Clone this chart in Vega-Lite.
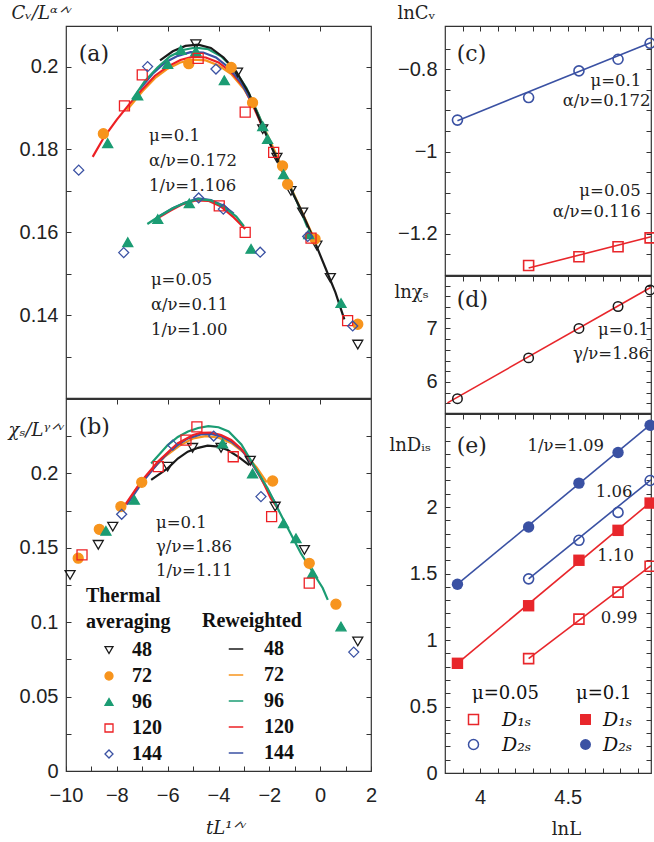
{
"$schema": "https://vega.github.io/schema/vega-lite/v6.json",
"padding": {"left": 7, "top": 3, "right": 0, "bottom": 0},
"background": "white",
"config": {
 "view": {"stroke": "#333333", "strokeWidth": 1.2},
 "axis": {"domain": false, "grid": false, "ticks": true, "tickSize": -5, "tickColor": "#333333", "tickWidth": 1, "labelFont": "Liberation Sans", "labelFontSize": 20, "labelColor": "#222222", "labelFlush": false, "labelOverlap": false, "labelPadding": 13, "titleFont": "DejaVu Serif", "titleFontSize": 18, "titleFontWeight": "normal", "titleColor": "#222222"},
 "axisBottom": {"labelPadding": 19},
 "legend": {"padding": 0, "labelColor": "#111111", "titleColor": "#111111", "labelLimit": 300, "titleLimit": 300}
},
"datasets": {
 "a_th": [
  {"L":48,"x":-4.89,"y":0.2054},{"L":48,"x":-3.25,"y":0.1986},{"L":48,"x":-2.26,"y":0.1849},{"L":48,"x":-1.7,"y":0.178},{"L":48,"x":-1.15,"y":0.170},{"L":48,"x":-0.69,"y":0.1648},{"L":48,"x":-0.13,"y":0.1568},{"L":48,"x":0.4,"y":0.149},{"L":48,"x":1.48,"y":0.1329},
  {"L":72,"x":-8.53,"y":0.1838},{"L":72,"x":-5.17,"y":0.2007},{"L":72,"x":-3.5,"y":0.1998},{"L":72,"x":-2.66,"y":0.1913},{"L":72,"x":-1.48,"y":0.176},{"L":72,"x":-1.28,"y":0.1716},{"L":72,"x":-0.2,"y":0.1584},{"L":72,"x":1.48,"y":0.1378},
  {"L":96,"x":-8.36,"y":0.1815},{"L":96,"x":-7.18,"y":0.193},{"L":96,"x":-6.0,"y":0.2006},{"L":96,"x":-5.48,"y":0.204},{"L":96,"x":-4.89,"y":0.2037},{"L":96,"x":-3.77,"y":0.1967},{"L":96,"x":-2.26,"y":0.1856},{"L":96,"x":-2.07,"y":0.1825},{"L":96,"x":-1.44,"y":0.174},{"L":96,"x":-0.45,"y":0.1595},{"L":96,"x":0.82,"y":0.1429},
  {"L":96,"x":-7.57,"y":0.1576},{"L":96,"x":-6.39,"y":0.1632},{"L":96,"x":-5.15,"y":0.167},{"L":96,"x":-2.72,"y":0.156},
  {"L":120,"x":-7.7,"y":0.1905},{"L":120,"x":-7.0,"y":0.198},{"L":120,"x":-4.8,"y":0.202},{"L":120,"x":-2.95,"y":0.189},{"L":120,"x":-1.83,"y":0.1793},{"L":120,"x":-0.36,"y":0.1586},{"L":120,"x":1.08,"y":0.1387},
  {"L":120,"x":-3.97,"y":0.1664},{"L":120,"x":-2.95,"y":0.160},
  {"L":144,"x":-9.5,"y":0.175},{"L":144,"x":-6.79,"y":0.200},{"L":144,"x":-4.1,"y":0.1994},{"L":144,"x":-0.49,"y":0.159},{"L":144,"x":1.28,"y":0.1374},
  {"L":144,"x":-7.73,"y":0.1551},{"L":144,"x":-4.78,"y":0.1683},{"L":144,"x":-3.81,"y":0.1656},{"L":144,"x":-2.36,"y":0.1552}
 ],
 "a_rw": [
  {"Lr":"72","mu":"0.1","x":-7.6,"y":0.1895},{"Lr":"72","mu":"0.1","x":-7.0,"y":0.1940},{"Lr":"72","mu":"0.1","x":-6.5,"y":0.1972},{"Lr":"72","mu":"0.1","x":-6.0,"y":0.1995},{"Lr":"72","mu":"0.1","x":-5.5,"y":0.2010},{"Lr":"72","mu":"0.1","x":-5.0,"y":0.2017},{"Lr":"72","mu":"0.1","x":-4.5,"y":0.2015},{"Lr":"72","mu":"0.1","x":-4.0,"y":0.2003},{"Lr":"72","mu":"0.1","x":-3.5,"y":0.1982},{"Lr":"72","mu":"0.1","x":-3.0,"y":0.1946},{"Lr":"72","mu":"0.1","x":-2.5,"y":0.1893},{"Lr":"72","mu":"0.1","x":-2.0,"y":0.1825},{"Lr":"72","mu":"0.1","x":-1.5,"y":0.1758},{"Lr":"72","mu":"0.1","x":-1.0,"y":0.1688},{"Lr":"72","mu":"0.1","x":-0.5,"y":0.1620},{"Lr":"72","mu":"0.1","x":-0.2,"y":0.1580},
  {"Lr":"120","mu":"0.1","x":-8.95,"y":0.1782},{"Lr":"120","mu":"0.1","x":-8.5,"y":0.1830},{"Lr":"120","mu":"0.1","x":-8.0,"y":0.1872},{"Lr":"120","mu":"0.1","x":-7.5,"y":0.1910},{"Lr":"120","mu":"0.1","x":-7.0,"y":0.1945},{"Lr":"120","mu":"0.1","x":-6.5,"y":0.1978},{"Lr":"120","mu":"0.1","x":-6.0,"y":0.2000},{"Lr":"120","mu":"0.1","x":-5.5,"y":0.2016},{"Lr":"120","mu":"0.1","x":-5.0,"y":0.2024},{"Lr":"120","mu":"0.1","x":-4.5,"y":0.2022},{"Lr":"120","mu":"0.1","x":-4.0,"y":0.2010},{"Lr":"120","mu":"0.1","x":-3.5,"y":0.1987},{"Lr":"120","mu":"0.1","x":-3.0,"y":0.1950},{"Lr":"120","mu":"0.1","x":-2.6,"y":0.1900},{"Lr":"120","mu":"0.1","x":-2.3,"y":0.1858},
  {"Lr":"144","mu":"0.1","x":-7.1,"y":0.1945},{"Lr":"144","mu":"0.1","x":-6.6,"y":0.1982},{"Lr":"144","mu":"0.1","x":-6.1,"y":0.2010},{"Lr":"144","mu":"0.1","x":-5.6,"y":0.2026},{"Lr":"144","mu":"0.1","x":-5.1,"y":0.2035},{"Lr":"144","mu":"0.1","x":-4.6,"y":0.2034},{"Lr":"144","mu":"0.1","x":-4.1,"y":0.2022},{"Lr":"144","mu":"0.1","x":-3.6,"y":0.1998},{"Lr":"144","mu":"0.1","x":-3.1,"y":0.1960},{"Lr":"144","mu":"0.1","x":-2.6,"y":0.1905},{"Lr":"144","mu":"0.1","x":-2.2,"y":0.1850},
  {"Lr":"96","mu":"0.1","x":-7.4,"y":0.1920},{"Lr":"96","mu":"0.1","x":-6.9,"y":0.1965},{"Lr":"96","mu":"0.1","x":-6.4,"y":0.1998},{"Lr":"96","mu":"0.1","x":-5.9,"y":0.2025},{"Lr":"96","mu":"0.1","x":-5.4,"y":0.2040},{"Lr":"96","mu":"0.1","x":-4.9,"y":0.2046},{"Lr":"96","mu":"0.1","x":-4.4,"y":0.2042},{"Lr":"96","mu":"0.1","x":-3.9,"y":0.2025},{"Lr":"96","mu":"0.1","x":-3.4,"y":0.1995},{"Lr":"96","mu":"0.1","x":-2.9,"y":0.1948},{"Lr":"96","mu":"0.1","x":-2.4,"y":0.1880},{"Lr":"96","mu":"0.1","x":-1.9,"y":0.1805},{"Lr":"96","mu":"0.1","x":-1.4,"y":0.1738},{"Lr":"96","mu":"0.1","x":-0.9,"y":0.1672},{"Lr":"96","mu":"0.1","x":-0.5,"y":0.1612},
  {"Lr":"48","mu":"0.1","x":-6.3,"y":0.2015},{"Lr":"48","mu":"0.1","x":-5.8,"y":0.2037},{"Lr":"48","mu":"0.1","x":-5.3,"y":0.2050},{"Lr":"48","mu":"0.1","x":-4.8,"y":0.2053},{"Lr":"48","mu":"0.1","x":-4.3,"y":0.2045},{"Lr":"48","mu":"0.1","x":-3.8,"y":0.2022},{"Lr":"48","mu":"0.1","x":-3.3,"y":0.1988},{"Lr":"48","mu":"0.1","x":-2.8,"y":0.1935},{"Lr":"48","mu":"0.1","x":-2.3,"y":0.1860},{"Lr":"48","mu":"0.1","x":-1.8,"y":0.1790},{"Lr":"48","mu":"0.1","x":-1.3,"y":0.1722},{"Lr":"48","mu":"0.1","x":-0.8,"y":0.1660},{"Lr":"48","mu":"0.1","x":-0.3,"y":0.1590},{"Lr":"48","mu":"0.1","x":0.2,"y":0.1515},{"Lr":"48","mu":"0.1","x":0.6,"y":0.1455},{"Lr":"48","mu":"0.1","x":0.95,"y":0.1390},
  {"Lr":"120","mu":"0.05","x":-6.4,"y":0.1634},{"Lr":"120","mu":"0.05","x":-5.9,"y":0.1652},{"Lr":"120","mu":"0.05","x":-5.4,"y":0.1668},{"Lr":"120","mu":"0.05","x":-4.9,"y":0.1677},{"Lr":"120","mu":"0.05","x":-4.4,"y":0.1676},{"Lr":"120","mu":"0.05","x":-3.9,"y":0.1662},{"Lr":"120","mu":"0.05","x":-3.4,"y":0.1636},{"Lr":"120","mu":"0.05","x":-2.95,"y":0.1608},
  {"Lr":"144","mu":"0.05","x":-6.3,"y":0.1640},{"Lr":"144","mu":"0.05","x":-5.8,"y":0.1658},{"Lr":"144","mu":"0.05","x":-5.3,"y":0.1672},{"Lr":"144","mu":"0.05","x":-4.8,"y":0.1682},{"Lr":"144","mu":"0.05","x":-4.3,"y":0.1678},{"Lr":"144","mu":"0.05","x":-3.8,"y":0.1664},{"Lr":"144","mu":"0.05","x":-3.4,"y":0.1645},
  {"Lr":"96","mu":"0.05","x":-6.8,"y":0.1620},{"Lr":"96","mu":"0.05","x":-6.3,"y":0.1640},{"Lr":"96","mu":"0.05","x":-5.8,"y":0.1658},{"Lr":"96","mu":"0.05","x":-5.3,"y":0.1672},{"Lr":"96","mu":"0.05","x":-4.8,"y":0.1680},{"Lr":"96","mu":"0.05","x":-4.3,"y":0.1677},{"Lr":"96","mu":"0.05","x":-3.8,"y":0.1662},{"Lr":"96","mu":"0.05","x":-3.3,"y":0.1638},{"Lr":"96","mu":"0.05","x":-3.0,"y":0.1615}
 ],
 "b_th": [
  {"L":48,"x":-9.84,"y":0.1318},{"L":48,"x":-8.73,"y":0.152},{"L":48,"x":-8.16,"y":0.1642},{"L":48,"x":-6.0,"y":0.2045},{"L":48,"x":-5.02,"y":0.2172},{"L":48,"x":-3.9,"y":0.2172},{"L":48,"x":-2.75,"y":0.2085},{"L":48,"x":-1.77,"y":0.1777},{"L":48,"x":-0.62,"y":0.1486},{"L":48,"x":1.48,"y":0.0871},
  {"L":72,"x":-9.52,"y":0.143},{"L":72,"x":-8.69,"y":0.1624},{"L":72,"x":-7.84,"y":0.1777},{"L":72,"x":-7.02,"y":0.194},{"L":72,"x":-1.87,"y":0.1949},{"L":72,"x":-0.43,"y":0.1396},{"L":72,"x":0.62,"y":0.1121},
  {"L":96,"x":-8.43,"y":0.1614},{"L":96,"x":-7.31,"y":0.1822},{"L":96,"x":-3.84,"y":0.2201},{"L":96,"x":-2.66,"y":0.2},{"L":96,"x":-1.44,"y":0.1665},{"L":96,"x":-0.95,"y":0.1564},{"L":96,"x":-0.3,"y":0.1329},{"L":96,"x":0.82,"y":0.0971},
  {"L":120,"x":-9.37,"y":0.1452},{"L":120,"x":-6.37,"y":0.2045},{"L":120,"x":-5.28,"y":0.2224},{"L":120,"x":-4.85,"y":0.2313},{"L":120,"x":-3.42,"y":0.2112},{"L":120,"x":-1.91,"y":0.171},{"L":120,"x":-0.43,"y":0.1262},
  {"L":144,"x":-7.81,"y":0.1725},{"L":144,"x":-5.8,"y":0.219},{"L":144,"x":-4.19,"y":0.2251},{"L":144,"x":-2.33,"y":0.1844},{"L":144,"x":1.32,"y":0.0799}
 ],
 "b_rw": [
  {"Lr":"48","x":-6.65,"y":0.1956},{"Lr":"48","x":-6.0,"y":0.2034},{"Lr":"48","x":-5.6,"y":0.2100},{"Lr":"48","x":-5.21,"y":0.2146},{"Lr":"48","x":-4.8,"y":0.2172},{"Lr":"48","x":-4.43,"y":0.2186},{"Lr":"48","x":-4.0,"y":0.2180},{"Lr":"48","x":-3.64,"y":0.2157},{"Lr":"48","x":-3.2,"y":0.2110},{"Lr":"48","x":-2.79,"y":0.2056},
  {"Lr":"72","x":-7.3,"y":0.1880},{"Lr":"72","x":-6.7,"y":0.2010},{"Lr":"72","x":-6.1,"y":0.2115},{"Lr":"72","x":-5.5,"y":0.2190},{"Lr":"72","x":-5.0,"y":0.2235},{"Lr":"72","x":-4.5,"y":0.2250},{"Lr":"72","x":-4.0,"y":0.2240},{"Lr":"72","x":-3.5,"y":0.2205},{"Lr":"72","x":-3.0,"y":0.2140},{"Lr":"72","x":-2.5,"y":0.2040},{"Lr":"72","x":-2.1,"y":0.1940},
  {"Lr":"144","x":-7.6,"y":0.1790},{"Lr":"144","x":-7.0,"y":0.1940},{"Lr":"144","x":-6.4,"y":0.2065},{"Lr":"144","x":-5.8,"y":0.2170},{"Lr":"144","x":-5.2,"y":0.2235},{"Lr":"144","x":-4.7,"y":0.2262},{"Lr":"144","x":-4.3,"y":0.2265},{"Lr":"144","x":-3.9,"y":0.2250},{"Lr":"144","x":-3.5,"y":0.2215},{"Lr":"144","x":-3.1,"y":0.2160},{"Lr":"144","x":-2.7,"y":0.2070},{"Lr":"144","x":-2.3,"y":0.1960},{"Lr":"144","x":-1.9,"y":0.1840},{"Lr":"144","x":-1.65,"y":0.1770},
  {"Lr":"120","x":-7.77,"y":0.1765},{"Lr":"120","x":-7.05,"y":0.1944},{"Lr":"120","x":-6.39,"y":0.2078},{"Lr":"120","x":-5.61,"y":0.2201},{"Lr":"120","x":-5.0,"y":0.2258},{"Lr":"120","x":-4.69,"y":0.2273},{"Lr":"120","x":-4.3,"y":0.2275},{"Lr":"120","x":-3.9,"y":0.2258},{"Lr":"120","x":-3.5,"y":0.2225},{"Lr":"120","x":-3.12,"y":0.2168},{"Lr":"120","x":-2.8,"y":0.2100},{"Lr":"120","x":-2.46,"y":0.2011},{"Lr":"120","x":-2.2,"y":0.1925},{"Lr":"120","x":-1.94,"y":0.1832},{"Lr":"120","x":-1.67,"y":0.1765},
  {"Lr":"96","x":-6.65,"y":0.2067},{"Lr":"96","x":-6.0,"y":0.2190},{"Lr":"96","x":-5.6,"y":0.2245},{"Lr":"96","x":-5.2,"y":0.2282},{"Lr":"96","x":-4.8,"y":0.2305},{"Lr":"96","x":-4.4,"y":0.2318},{"Lr":"96","x":-4.0,"y":0.2310},{"Lr":"96","x":-3.6,"y":0.2282},{"Lr":"96","x":-3.1,"y":0.2195},{"Lr":"96","x":-2.7,"y":0.2080},{"Lr":"96","x":-2.07,"y":0.1900},{"Lr":"96","x":-1.41,"y":0.1676},{"Lr":"96","x":-0.76,"y":0.1463},{"Lr":"96","x":0.1,"y":0.1230},{"Lr":"96","x":0.3,"y":0.1150}
 ]
},
"resolve": {"scale": {"color": "independent", "fill": "independent", "stroke": "independent", "shape": "independent"}},
"spacing": 10,
"hconcat": [
 {
  "spacing": -2,
  "resolve": {"scale": {"color": "independent", "fill": "independent", "stroke": "independent", "shape": "independent"}},
  "vconcat": [
   {
    "width": 305, "height": 372,
    "resolve": {"axis": {"x": "independent", "y": "independent"}},
    "layer": [
     {
      "data": {"name": "a_rw"},
      "mark": {"type": "line", "strokeWidth": 2.2},
      "encoding": {
       "x": {"field": "x", "type": "quantitative", "scale": {"domain": [-10, 2], "nice": false, "zero": false}, "axis": {"orient": "top", "values": [-8, -6, -4, -2, 0], "labels": false, "title": null}},
       "y": {"field": "y", "type": "quantitative", "scale": {"domain": [0.12, 0.2098], "nice": false, "zero": false}, "axis": {"orient": "right", "values": [0.13, 0.14, 0.15, 0.16, 0.17, 0.18, 0.19, 0.2], "labels": false, "title": null}},
       "color": {"field": "Lr", "type": "nominal", "scale": {"domain": ["48", "72", "96", "120", "144"], "range": ["#1a1a1a", "#f7941d", "#1b9c73", "#ed2024", "#3a51a3"]}, "legend": null},
       "detail": {"field": "mu"}
      }
     },
     {
      "data": {"name": "a_th"},
      "mark": {"type": "point", "filled": true, "opacity": 1, "size": 100, "strokeWidth": 1.3},
      "encoding": {
       "x": {"field": "x", "type": "quantitative", "axis": null},
       "y": {"field": "y", "type": "quantitative", "axis": {"orient": "left", "values": [0.13, 0.14, 0.15, 0.16, 0.17, 0.18, 0.19, 0.2], "format": "~r", "labelExpr": "abs(datum.value*50-round(datum.value*50))<0.001 ? datum.label : ''", "title": "Cᵥ/Lᵅᐟᵛ", "titleFontStyle": "italic", "titleAngle": 0, "titleAlign": "left", "titleBaseline": "alphabetic", "titleX": -55, "titleY": -8}},
       "shape": {"field": "L", "type": "nominal", "scale": {"domain": [48, 72, 96, 120, 144], "range": ["triangle-down", "circle", "triangle-up", "square", "diamond"]}, "legend": null},
       "fill": {"field": "L", "type": "nominal", "scale": {"domain": [48, 72, 96, 120, 144], "range": ["transparent", "#f7941d", "#1b9c73", "transparent", "transparent"]}, "legend": null},
       "stroke": {"field": "L", "type": "nominal", "scale": {"domain": [48, 72, 96, 120, 144], "range": ["#1a1a1a", "#f7941d", "#1b9c73", "#ed2024", "#3a51a3"]}, "legend": null}
      }
     },
     {
      "data": {"values": [{"x": -9.5, "y": 0.2031, "t": "(a)"}]},
      "mark": {"type": "text", "font": "DejaVu Serif", "fontSize": 22, "align": "left", "baseline": "middle", "color": "#222222"},
      "encoding": {"x": {"field": "x", "type": "quantitative", "axis": null}, "y": {"field": "y", "type": "quantitative", "axis": null}, "text": {"field": "t"}}
     },
     {
      "data": {"values": [{"x": -6.73, "y": 0.1833, "t": "μ=0.1\nα/ν=0.172\n1/ν=1.106"}, {"x": -6.66, "y": 0.1484, "t": "μ=0.05\nα/ν=0.11\n1/ν=1.00"}]},
      "mark": {"type": "text", "font": "DejaVu Serif", "fontSize": 16.5, "align": "left", "baseline": "middle", "lineBreak": "\n", "lineHeight": 25, "color": "#222222"},
      "encoding": {"x": {"field": "x", "type": "quantitative", "axis": null}, "y": {"field": "y", "type": "quantitative", "axis": null}, "text": {"field": "t"}}
     }
    ]
   },
   {
    "width": 305, "height": 372,
    "resolve": {"axis": {"x": "independent", "y": "independent"}, "legend": {"color": "independent", "shape": "independent", "fill": "independent", "stroke": "independent"}},
    "layer": [
     {
      "data": {"name": "b_rw"},
      "mark": {"type": "line", "strokeWidth": 2.2},
      "encoding": {
       "x": {"field": "x", "type": "quantitative", "scale": {"domain": [-10, 2], "nice": false, "zero": false}, "axis": {"orient": "top", "values": [-8, -6, -4, -2, 0], "labels": false, "title": null}},
       "y": {"field": "y", "type": "quantitative", "scale": {"domain": [0, 0.25], "nice": false, "zero": false}, "axis": {"orient": "right", "values": [0.025, 0.05, 0.075, 0.1, 0.125, 0.15, 0.175, 0.2, 0.225], "labels": false, "title": null}},
       "color": {"field": "Lr", "type": "nominal", "scale": {"domain": ["48", "72", "96", "120", "144"], "range": ["#1a1a1a", "#f7941d", "#1b9c73", "#ed2024", "#3a51a3"]},
        "legend": {"title": "Reweighted", "orient": "none", "legendX": 136, "legendY": 212, "symbolType": "stroke", "symbolSize": 210, "symbolStrokeWidth": 1.5, "symbolOffset": 24, "labelOffset": 18, "rowPadding": 6, "titlePadding": 8, "labelFont": "Liberation Serif", "labelFontWeight": "bold", "labelFontSize": 20, "titleFont": "Liberation Serif", "titleFontWeight": "bold", "titleFontSize": 20}}
      }
     },
     {
      "data": {"name": "b_th"},
      "mark": {"type": "point", "filled": true, "opacity": 1, "size": 100, "strokeWidth": 1.3},
      "encoding": {
       "x": {"field": "x", "type": "quantitative", "axis": {"orient": "bottom", "values": [-10, -9, -8, -7, -6, -5, -4, -3, -2, -1, 0, 1, 2], "format": "~r", "labelExpr": "datum.value % 2 == 0 ? datum.label : ''", "title": "tL¹ᐟᵛ", "titleFontStyle": "italic", "titleAlign": "center", "titleBaseline": "middle", "titleX": 160, "titleY": 57}},
       "y": {"field": "y", "type": "quantitative", "axis": {"orient": "left", "values": [0, 0.025, 0.05, 0.075, 0.1, 0.125, 0.15, 0.175, 0.2, 0.225], "format": "~r", "labelExpr": "abs(datum.value*20-round(datum.value*20))<0.001 ? datum.label : ''", "title": "χₛ/Lᵞᐟᵛ", "titleFontStyle": "italic", "titleAngle": 0, "titleAlign": "left", "titleBaseline": "alphabetic", "titleX": -58, "titleY": 36}},
       "shape": {"field": "L", "type": "nominal", "scale": {"domain": [48, 72, 96, 120, 144], "range": ["triangle-down", "circle", "triangle-up", "square", "diamond"]},
        "legend": {"title": ["Thermal", "averaging"], "orient": "none", "legendX": 20, "legendY": 187, "symbolOffset": 13, "labelOffset": 13, "titleLineHeight": 26, "titlePadding": 8, "rowPadding": 6, "symbolSize": 64, "symbolStrokeWidth": 1.3, "labelFont": "Liberation Serif", "labelFontWeight": "bold", "labelFontSize": 20, "titleFont": "Liberation Serif", "titleFontWeight": "bold", "titleFontSize": 20}},
       "fill": {"field": "L", "type": "nominal", "scale": {"domain": [48, 72, 96, 120, 144], "range": ["transparent", "#f7941d", "#1b9c73", "transparent", "transparent"]},
        "legend": {"title": ["Thermal", "averaging"], "orient": "none", "legendX": 20, "legendY": 187, "symbolOffset": 13, "labelOffset": 13, "titleLineHeight": 26, "titlePadding": 8, "rowPadding": 6, "symbolSize": 64, "symbolStrokeWidth": 1.3, "labelFont": "Liberation Serif", "labelFontWeight": "bold", "labelFontSize": 20, "titleFont": "Liberation Serif", "titleFontWeight": "bold", "titleFontSize": 20}},
       "stroke": {"field": "L", "type": "nominal", "scale": {"domain": [48, 72, 96, 120, 144], "range": ["#1a1a1a", "#f7941d", "#1b9c73", "#ed2024", "#3a51a3"]},
        "legend": {"title": ["Thermal", "averaging"], "orient": "none", "legendX": 20, "legendY": 187, "symbolOffset": 13, "labelOffset": 13, "titleLineHeight": 26, "titlePadding": 8, "rowPadding": 6, "symbolSize": 64, "symbolStrokeWidth": 1.3, "labelFont": "Liberation Serif", "labelFontWeight": "bold", "labelFontSize": 20, "titleFont": "Liberation Serif", "titleFontWeight": "bold", "titleFontSize": 20}}
      }
     },
     {
      "data": {"values": [{"x": -9.5, "y": 0.2313, "t": "(b)"}]},
      "mark": {"type": "text", "font": "DejaVu Serif", "fontSize": 22, "align": "left", "baseline": "middle", "color": "#222222"},
      "encoding": {"x": {"field": "x", "type": "quantitative", "axis": null}, "y": {"field": "y", "type": "quantitative", "axis": null}, "text": {"field": "t"}}
     },
     {
      "data": {"values": [{"x": -6.46, "y": 0.1669, "t": "μ=0.1\nγ/ν=1.86\n1/ν=1.11"}]},
      "mark": {"type": "text", "font": "DejaVu Serif", "fontSize": 16.5, "align": "left", "baseline": "middle", "lineBreak": "\n", "lineHeight": 24, "color": "#222222"},
      "encoding": {"x": {"field": "x", "type": "quantitative", "axis": null}, "y": {"field": "y", "type": "quantitative", "axis": null}, "text": {"field": "t"}}
     }
    ]
   }
  ]
 },
 {
  "spacing": -2,
  "resolve": {"scale": {"color": "independent", "fill": "independent", "stroke": "independent", "shape": "independent"}},
  "vconcat": [
   {
    "width": 206, "height": 249,
    "resolve": {"axis": {"x": "independent", "y": "independent"}},
    "layer": [
     {
      "data": {"values": [{"lnL": 3.871, "v": -0.925}, {"lnL": 4.975, "v": -0.735}]},
      "mark": {"type": "line", "color": "#3a51a3", "strokeWidth": 1.6},
      "encoding": {
       "x": {"field": "lnL", "type": "quantitative", "scale": {"domain": [3.8, 4.975], "nice": false, "zero": false}, "axis": {"orient": "top", "values": [3.9, 4.0, 4.1, 4.2, 4.3, 4.4, 4.5, 4.6, 4.7, 4.8, 4.9], "labels": false, "title": null}},
       "y": {"field": "v", "type": "quantitative", "scale": {"domain": [-1.3, -0.695], "nice": false, "zero": false}, "axis": {"orient": "right", "values": [-1.25, -1.2, -1.15, -1.1, -1.05, -1.0, -0.95, -0.9, -0.85, -0.8, -0.75], "labels": false, "title": null}}
      }
     },
     {
      "data": {"values": [{"lnL": 4.277, "v": -1.283}, {"lnL": 4.975, "v": -1.207}]},
      "mark": {"type": "line", "color": "#e8262b", "strokeWidth": 1.6},
      "encoding": {"x": {"field": "lnL", "type": "quantitative", "axis": null}, "y": {"field": "v", "type": "quantitative", "axis": null}}
     },
     {
      "data": {"values": [{"lnL": 3.871, "v": -0.9236}, {"lnL": 4.277, "v": -0.8689}, {"lnL": 4.564, "v": -0.8041}, {"lnL": 4.787, "v": -0.7758}, {"lnL": 4.970, "v": -0.737}]},
      "mark": {"type": "point", "shape": "circle", "filled": false, "color": "#3a51a3", "opacity": 1, "size": 100, "strokeWidth": 1.6},
      "encoding": {
       "x": {"field": "lnL", "type": "quantitative", "axis": null},
       "y": {"field": "v", "type": "quantitative", "axis": {"orient": "left", "values": [-1.25, -1.2, -1.15, -1.1, -1.05, -1.0, -0.95, -0.9, -0.85, -0.8, -0.75], "format": "~r", "labelExpr": "abs(datum.value*5-round(datum.value*5))<0.001 ? datum.label : ''", "title": "lnCᵥ", "titleAngle": 0, "titleAlign": "left", "titleBaseline": "alphabetic", "titleX": -48, "titleY": -8}}
      }
     },
     {
      "data": {"values": [{"lnL": 4.277, "v": -1.2768}, {"lnL": 4.564, "v": -1.2558}, {"lnL": 4.787, "v": -1.2315}, {"lnL": 4.970, "v": -1.2097}]},
      "mark": {"type": "point", "shape": "square", "filled": false, "color": "#e8262b", "opacity": 1, "size": 100, "strokeWidth": 1.6},
      "encoding": {"x": {"field": "lnL", "type": "quantitative", "axis": null}, "y": {"field": "v", "type": "quantitative", "axis": null}}
     },
     {
      "data": {"values": [{"x": 3.867, "y": -0.763, "t": "(c)"}]},
      "mark": {"type": "text", "font": "DejaVu Serif", "fontSize": 22, "align": "left", "baseline": "middle", "color": "#222222"},
      "encoding": {"x": {"field": "x", "type": "quantitative", "axis": null}, "y": {"field": "y", "type": "quantitative", "axis": null}, "text": {"field": "t"}}
     },
     {
      "data": {"values": [{"x": 4.92, "y": -0.828, "t": "μ=0.1"}, {"x": 4.972, "y": -0.877, "t": "α/ν=0.172"}, {"x": 4.916, "y": -1.095, "t": "μ=0.05"}, {"x": 4.916, "y": -1.148, "t": "α/ν=0.116"}]},
      "mark": {"type": "text", "font": "DejaVu Serif", "fontSize": 16.5, "align": "right", "baseline": "middle", "color": "#222222"},
      "encoding": {"x": {"field": "x", "type": "quantitative", "axis": null}, "y": {"field": "y", "type": "quantitative", "axis": null}, "text": {"field": "t"}}
     }
    ]
   },
   {
    "width": 206, "height": 137,
    "resolve": {"axis": {"x": "independent", "y": "independent"}},
    "layer": [
     {
      "data": {"values": [{"lnL": 3.814, "v": 5.61}, {"lnL": 4.975, "v": 7.77}]},
      "mark": {"type": "line", "color": "#e8262b", "strokeWidth": 1.6},
      "encoding": {
       "x": {"field": "lnL", "type": "quantitative", "scale": {"domain": [3.8, 4.975], "nice": false, "zero": false}, "axis": {"orient": "top", "values": [3.9, 4.0, 4.1, 4.2, 4.3, 4.4, 4.5, 4.6, 4.7, 4.8, 4.9], "labels": false, "title": null}},
       "y": {"field": "v", "type": "quantitative", "scale": {"domain": [5.42, 7.98], "nice": false, "zero": false}, "axis": {"orient": "right", "values": [5.6, 5.8, 6.0, 6.2, 6.4, 6.6, 6.8, 7.0, 7.2, 7.4, 7.6, 7.8], "labels": false, "title": null}}
      }
     },
     {
      "data": {"values": [{"lnL": 3.871, "v": 5.687}, {"lnL": 4.277, "v": 6.45}, {"lnL": 4.564, "v": 7.0}, {"lnL": 4.787, "v": 7.41}, {"lnL": 4.970, "v": 7.72}]},
      "mark": {"type": "point", "shape": "circle", "filled": false, "color": "#1a1a1a", "opacity": 1, "size": 90, "strokeWidth": 1.5},
      "encoding": {
       "x": {"field": "lnL", "type": "quantitative", "axis": null},
       "y": {"field": "v", "type": "quantitative", "axis": {"orient": "left", "values": [5.6, 5.8, 6.0, 6.2, 6.4, 6.6, 6.8, 7.0, 7.2, 7.4, 7.6, 7.8], "format": "~r", "labelExpr": "abs(datum.value-round(datum.value))<0.001 ? datum.label : ''", "title": "lnχₛ", "titleAngle": 0, "titleAlign": "left", "titleBaseline": "alphabetic", "titleX": -51, "titleY": 21}}
      }
     },
     {
      "data": {"values": [{"x": 3.867, "y": 7.53, "t": "(d)"}]},
      "mark": {"type": "text", "font": "DejaVu Serif", "fontSize": 22, "align": "left", "baseline": "middle", "color": "#222222"},
      "encoding": {"x": {"field": "x", "type": "quantitative", "axis": null}, "y": {"field": "y", "type": "quantitative", "axis": null}, "text": {"field": "t"}}
     },
     {
      "data": {"values": [{"x": 4.963, "y": 6.97, "t": "μ=0.1"}, {"x": 4.963, "y": 6.53, "t": "γ/ν=1.86"}]},
      "mark": {"type": "text", "font": "DejaVu Serif", "fontSize": 16.5, "align": "right", "baseline": "middle", "color": "#222222"},
      "encoding": {"x": {"field": "x", "type": "quantitative", "axis": null}, "y": {"field": "y", "type": "quantitative", "axis": null}, "text": {"field": "t"}}
     }
    ]
   },
   {
    "width": 206, "height": 359,
    "resolve": {"axis": {"x": "independent", "y": "independent"}, "scale": {"shape": "independent", "color": "independent", "fill": "independent", "stroke": "independent"}, "legend": {"shape": "independent", "color": "independent", "fill": "independent", "stroke": "independent"}},
    "layer": [
     {
      "data": {"values": [
       {"s": "a", "lnL": 3.871, "v": 1.42}, {"s": "a", "lnL": 4.975, "v": 2.623},
       {"s": "b", "lnL": 4.277, "v": 1.46}, {"s": "b", "lnL": 4.975, "v": 2.205},
       {"s": "c", "lnL": 3.871, "v": 0.825}, {"s": "c", "lnL": 4.975, "v": 2.039},
       {"s": "d", "lnL": 4.277, "v": 0.86}, {"s": "d", "lnL": 4.975, "v": 1.56}
      ]},
      "mark": {"type": "line", "strokeWidth": 1.6},
      "encoding": {
       "x": {"field": "lnL", "type": "quantitative", "scale": {"domain": [3.8, 4.975], "nice": false, "zero": false}, "axis": {"orient": "top", "values": [3.9, 4.0, 4.1, 4.2, 4.3, 4.4, 4.5, 4.6, 4.7, 4.8, 4.9], "labels": false, "title": null}},
       "y": {"field": "v", "type": "quantitative", "scale": {"domain": [0, 2.7], "nice": false, "zero": false}, "axis": {"orient": "right", "values": [0.1, 0.2, 0.3, 0.4, 0.5, 0.6, 0.7, 0.8, 0.9, 1.0, 1.1, 1.2, 1.3, 1.4, 1.5, 1.6, 1.7, 1.8, 1.9, 2.0, 2.1, 2.2, 2.3, 2.4, 2.5, 2.6], "labels": false, "title": null}},
       "color": {"field": "s", "type": "nominal", "scale": {"domain": ["a", "b", "c", "d"], "range": ["#3a51a3", "#3a51a3", "#e8262b", "#e8262b"]}, "legend": null}
      }
     },
     {
      "data": {"values": [
       {"D05": "D₁ₛ", "lnL": 4.277, "v": 0.86}, {"D05": "D₁ₛ", "lnL": 4.564, "v": 1.157}, {"D05": "D₁ₛ", "lnL": 4.787, "v": 1.36}, {"D05": "D₁ₛ", "lnL": 4.970, "v": 1.555},
       {"D05": "D₂ₛ", "lnL": 4.277, "v": 1.46}, {"D05": "D₂ₛ", "lnL": 4.564, "v": 1.75}, {"D05": "D₂ₛ", "lnL": 4.787, "v": 1.96}, {"D05": "D₂ₛ", "lnL": 4.970, "v": 2.20}
      ]},
      "mark": {"type": "point", "filled": false, "opacity": 1, "size": 100, "strokeWidth": 1.6},
      "encoding": {
       "x": {"field": "lnL", "type": "quantitative", "axis": {"orient": "bottom", "values": [3.9, 4.0, 4.1, 4.2, 4.3, 4.4, 4.5, 4.6, 4.7, 4.8, 4.9], "format": "~r", "labelExpr": "abs(datum.value*2-round(datum.value*2))<0.001 ? datum.label : ''", "title": "lnL", "titleAlign": "center", "titleBaseline": "middle", "titleX": 121, "titleY": 56}},
       "y": {"field": "v", "type": "quantitative", "axis": {"orient": "left", "values": [0, 0.1, 0.2, 0.3, 0.4, 0.5, 0.6, 0.7, 0.8, 0.9, 1.0, 1.1, 1.2, 1.3, 1.4, 1.5, 1.6, 1.7, 1.8, 1.9, 2.0, 2.1, 2.2, 2.3, 2.4, 2.5, 2.6], "format": "~r", "labelExpr": "abs(datum.value*2-round(datum.value*2))<0.001 && datum.value < 2.3 ? datum.label : ''", "title": "lnDᵢₛ", "titleAngle": 0, "titleAlign": "left", "titleBaseline": "alphabetic", "titleX": -56, "titleY": 36}},
       "shape": {"field": "D05", "type": "nominal", "scale": {"domain": ["D₁ₛ", "D₂ₛ"], "range": ["square", "circle"]},
        "legend": {"title": "μ=0.05", "orient": "none", "legendX": 27, "legendY": 271, "symbolOffset": -8, "labelOffset": 19, "rowPadding": 5, "titlePadding": 7, "symbolSize": 100, "symbolStrokeWidth": 1.5, "labelFont": "DejaVu Serif", "labelFontStyle": "italic", "labelFontSize": 19, "titleFont": "DejaVu Serif", "titleFontWeight": "normal", "titleFontSize": 18}},
       "stroke": {"field": "D05", "type": "nominal", "scale": {"domain": ["D₁ₛ", "D₂ₛ"], "range": ["#e8262b", "#3a51a3"]},
        "legend": {"title": "μ=0.05", "orient": "none", "legendX": 27, "legendY": 271, "symbolOffset": -8, "labelOffset": 19, "rowPadding": 5, "titlePadding": 7, "symbolSize": 100, "symbolStrokeWidth": 1.5, "labelFont": "DejaVu Serif", "labelFontStyle": "italic", "labelFontSize": 19, "titleFont": "DejaVu Serif", "titleFontWeight": "normal", "titleFontSize": 18}}
      }
     },
     {
      "data": {"values": [
       {"D10": "D₁ₛ", "lnL": 3.871, "v": 0.825}, {"D10": "D₁ₛ", "lnL": 4.277, "v": 1.258}, {"D10": "D₁ₛ", "lnL": 4.564, "v": 1.60}, {"D10": "D₁ₛ", "lnL": 4.787, "v": 1.825}, {"D10": "D₁ₛ", "lnL": 4.970, "v": 2.03},
       {"D10": "D₂ₛ", "lnL": 3.871, "v": 1.42}, {"D10": "D₂ₛ", "lnL": 4.277, "v": 1.85}, {"D10": "D₂ₛ", "lnL": 4.564, "v": 2.18}, {"D10": "D₂ₛ", "lnL": 4.787, "v": 2.41}, {"D10": "D₂ₛ", "lnL": 4.970, "v": 2.615}
      ]},
      "mark": {"type": "point", "filled": true, "opacity": 1, "size": 130},
      "encoding": {
       "x": {"field": "lnL", "type": "quantitative", "axis": null},
       "y": {"field": "v", "type": "quantitative", "axis": null},
       "shape": {"field": "D10", "type": "nominal", "scale": {"domain": ["D₁ₛ", "D₂ₛ"], "range": ["square", "circle"]},
        "legend": {"title": "μ=0.1", "orient": "none", "legendX": 131, "legendY": 271, "symbolOffset": 0, "labelOffset": 8, "rowPadding": 5, "titlePadding": 7, "symbolSize": 120, "labelFont": "DejaVu Serif", "labelFontStyle": "italic", "labelFontSize": 19, "titleFont": "DejaVu Serif", "titleFontWeight": "normal", "titleFontSize": 18}},
       "fill": {"field": "D10", "type": "nominal", "scale": {"domain": ["D₁ₛ", "D₂ₛ"], "range": ["#e8262b", "#3a51a3"]},
        "legend": {"title": "μ=0.1", "orient": "none", "legendX": 131, "legendY": 271, "symbolOffset": 0, "labelOffset": 8, "rowPadding": 5, "titlePadding": 7, "symbolSize": 120, "labelFont": "DejaVu Serif", "labelFontStyle": "italic", "labelFontSize": 19, "titleFont": "DejaVu Serif", "titleFontWeight": "normal", "titleFontSize": 18}}
      }
     },
     {
      "data": {"values": [{"x": 3.867, "y": 2.458, "t": "(e)"}]},
      "mark": {"type": "text", "font": "DejaVu Serif", "fontSize": 22, "align": "left", "baseline": "middle", "color": "#222222"},
      "encoding": {"x": {"field": "x", "type": "quantitative", "axis": null}, "y": {"field": "y", "type": "quantitative", "axis": null}, "text": {"field": "t"}}
     },
     {
      "data": {"values": [{"x": 4.27, "y": 2.463, "t": "1/ν=1.09"}, {"x": 4.66, "y": 2.113, "t": "1.06"}, {"x": 4.669, "y": 1.632, "t": "1.10"}, {"x": 4.688, "y": 1.163, "t": "0.99"}]},
      "mark": {"type": "text", "font": "DejaVu Serif", "fontSize": 16.5, "align": "left", "baseline": "middle", "color": "#222222"},
      "encoding": {"x": {"field": "x", "type": "quantitative", "axis": null}, "y": {"field": "y", "type": "quantitative", "axis": null}, "text": {"field": "t"}}
     }
    ]
   }
  ]
 }
]
}
